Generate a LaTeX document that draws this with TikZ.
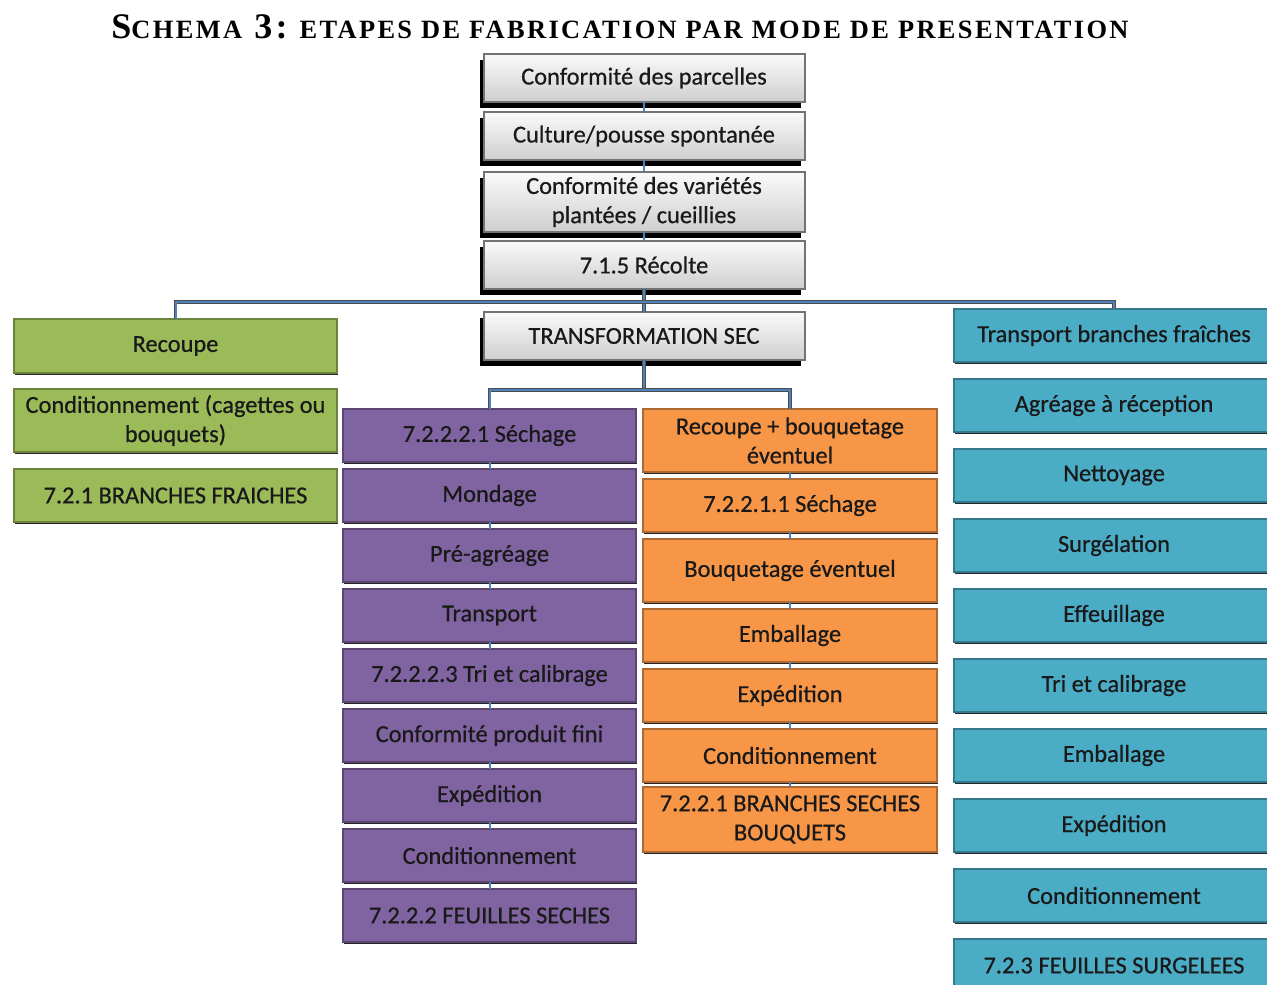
\documentclass[tikz,border=0pt]{standalone}
\usepackage{fontspec}
\setmainfont{Carlito}
\newfontfamily\boxfont{Carlito}[FakeBold=0.6]
\newfontfamily\titlefont{Liberation Serif}[LetterSpace=9]
\usetikzlibrary{positioning,shadows}
\definecolor{stepgreen}{HTML}{9BBB59}
\definecolor{steppurple}{HTML}{8064A2}
\definecolor{steporange}{HTML}{F79646}
\definecolor{stepblue}{HTML}{4BACC6}
\definecolor{lineblue}{HTML}{4F81BD}
\tikzset{base box/.style={rectangle,draw,line width=1pt,outer sep=0pt,text=black!90,align=center,inner sep=1pt,
            font=\boxfont\fontsize{12.2}{14.6}\selectfont,minimum height=26.5pt},
         box shadow/.style={drop shadow={shadow xshift=0.4pt,shadow yshift=-1pt,fill=black!85,opacity=1}},
         gray box/.style={base box,draw=black!55,top color=gray!4,bottom color=gray!38,
            minimum width=160.5pt,minimum height=24pt,
            drop shadow={shadow xshift=-1.8pt,shadow yshift=-3pt,fill=black,opacity=1}},
         green box/.style={base box,fill=stepgreen,draw=stepgreen!70!black,minimum width=161.5pt,box shadow},
         purple box/.style={base box,fill=steppurple,draw=steppurple!70!black,minimum width=146.5pt,box shadow},
         orange box/.style={base box,fill=steporange,draw=steporange!70!black,minimum width=147pt,box shadow},
         blue box/.style={base box,fill=stepblue,draw=stepblue!70!black,minimum width=160pt,box shadow},
         link/.style={draw=lineblue,line width=1pt},
         tree/.style={draw=black!70,line width=0.4pt,double=lineblue,double distance=1pt},
            }

\begin{document}
\begin{tikzpicture}[x=0.5pt,y=-0.5pt]
    \useasboundingbox (0,0) rectangle (1267,984);

    \node (title) at (620,27) {\titlefont\bfseries{\fontsize{18}{18}\selectfont S}{\fontsize{13.2}{13.2}\selectfont CHEMA}{\fontsize{18}{18}\selectfont{} 3:}{\fontsize{13.2}{13.2}\selectfont{} ETAPES DE FABRICATION PAR MODE DE PRESENTATION}};

    % tronc commun
    \node[gray box] (parc) at (644,78) {Conformité des parcelles};
    \node[gray box] (cult) at (644,136) {Culture/pousse spontanée};
    \node[gray box,minimum height=30pt] (var) at (644,202) {Conformité des variétés\\plantées / cueillies};
    \node[gray box] (rec) at (644,265) {7.1.5 Récolte};
    \node[gray box] (transfo) at (644,336) {TRANSFORMATION SEC};

    % branches fraiches
    \node[green box,minimum height=27pt] (recg) at (175.5,346) {Recoupe};
    \node[green box,minimum height=31.5pt] (condg) [below=8pt of recg] {Conditionnement (cagettes ou\\bouquets)};
    \node[green box] (bfr) [below=8.5pt of condg] {7.2.1 BRANCHES FRAICHES};

    % feuilles seches
    \node[purple box] (sech2) at (489.5,435.5) {7.2.2.2.1 Séchage};
    \node[purple box] (mond) [below=3.5pt of sech2] {Mondage};
    \node[purple box] (preag) [below=3.5pt of mond] {Pré-agréage};
    \node[purple box] (transp) [below=3.5pt of preag] {Transport};
    \node[purple box] (tri2) [below=3.5pt of transp] {7.2.2.2.3 Tri et calibrage};
    \node[purple box] (conf) [below=3.5pt of tri2] {Conformité produit fini};
    \node[purple box] (exp2) [below=3.5pt of conf] {Expédition};
    \node[purple box] (cond2) [below=3.5pt of exp2] {Conditionnement};
    \node[purple box] (fsec) [below=3.5pt of cond2] {7.2.2.2 FEUILLES SECHES};

    % branches seches bouquets
    \node[orange box,minimum height=31.5pt] (recb) at (790,440.5) {Recoupe + bouquetage\\éventuel};
    \node[orange box] (sech1) [below=3.5pt of recb] {7.2.2.1.1 Séchage};
    \node[orange box,minimum height=31.5pt] (bouq) [below=3.5pt of sech1] {Bouquetage éventuel};
    \node[orange box] (emb1) [below=3.5pt of bouq] {Emballage};
    \node[orange box] (exp1) [below=3.5pt of emb1] {Expédition};
    \node[orange box] (cond1) [below=3.5pt of exp1] {Conditionnement};
    \node[orange box,minimum height=32.5pt] (bsec) [below=2.5pt of cond1] {7.2.2.1 BRANCHES SECHES\\BOUQUETS};

    % feuilles surgelees
    \node[blue box] (tbf) at (1114,335.5) {Transport branches fraîches};
    \node[blue box] (agr) [below=8.5pt of tbf] {Agréage à réception};
    \node[blue box] (nett) [below=8.5pt of agr] {Nettoyage};
    \node[blue box] (surg) [below=8.5pt of nett] {Surgélation};
    \node[blue box] (eff) [below=8.5pt of surg] {Effeuillage};
    \node[blue box] (tri3) [below=8.5pt of eff] {Tri et calibrage};
    \node[blue box] (emb3) [below=8.5pt of tri3] {Emballage};
    \node[blue box] (exp3) [below=8.5pt of emb3] {Expédition};
    \node[blue box] (cond3) [below=8.5pt of exp3] {Conditionnement};
    \node[blue box] (fsur) [below=8.5pt of cond3] {7.2.3 FEUILLES SURGELEES};

    \foreach \a/\b in {parc/cult,cult/var,var/rec,
                       sech2/mond,mond/preag,preag/transp,transp/tri2,tri2/conf,conf/exp2,exp2/cond2,cond2/fsec,
                       recb/sech1,sech1/bouq,bouq/emb1,emb1/exp1,exp1/cond1,cond1/bsec}
        \draw[link] (\a.south) -- (\b.north);

    \coordinate (bar) at (644,302);
    \coordinate (split) at (644,390);
    \draw[tree] (rec.south) -- (transfo.north);
    \draw[tree] (recg.north) |- (bar) -| (tbf.north);
    \draw[tree] (transfo.south) -- (split);
    \draw[tree] (sech2.north) |- (split) -| (recb.north);
\end{tikzpicture}
\end{document}
